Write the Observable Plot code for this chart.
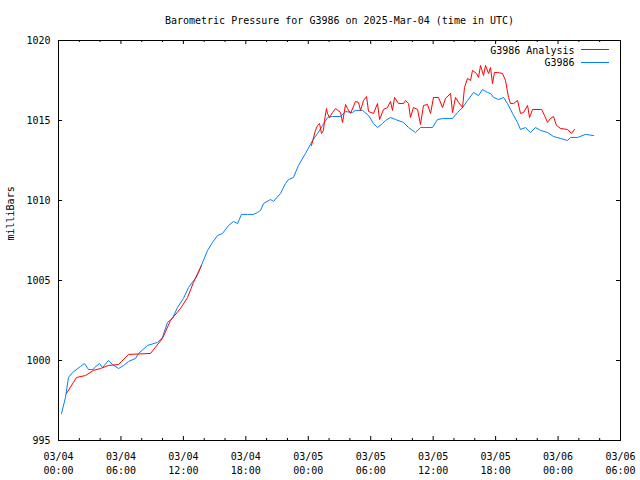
<!DOCTYPE html>
<html><head><meta charset="utf-8">
<script src="https://cdn.jsdelivr.net/npm/d3@7"></script>
<script src="https://cdn.jsdelivr.net/npm/@observablehq/plot@0.6"></script>
<style>body{margin:0;background:#fff}#chart{width:640px;height:480px}</style>
</head><body><div id="chart"></div>
<script>
const title = "Barometric Pressure for G3986 on 2025-Mar-04 (time in UTC)";
const yLabel = "milliBars";
const seriesNames = ["G3986 Analysis", "G3986"];
const seriesColors = ["#ff0000", "#0080ff"];
const yTicks = [995, 1000, 1005, 1010, 1015, 1020];
const xMajorHours = [0, 6, 12, 18, 24, 30, 36, 42, 48, 54];
const xMinorHours = [2, 4, 8, 10, 14, 16, 20, 22, 26, 28, 32, 34, 38, 40, 44, 46, 50, 52];

// G3986 (hours since 2025-03-04 00:00 UTC)
const blueHours = [0.29,0.67,0.96,1.35,2.11,2.50,2.88,3.36,3.46,3.94,4.23,4.80,5.19,5.77,6.25,6.73,7.40,7.69,8.55,9.51,9.99,10.47,10.95,11.43,12.01,12.49,13.16,13.45,14.32,14.80,15.28,15.76,16.34,16.82,17.20,17.58,18.16,18.74,19.12,19.41,19.70,20.37,20.66,21.33,21.81,22.10,22.58,23.06,23.73,24.41,24.89,25.37,25.85,26.33,27.10,27.58,28.25,28.54,29.21,29.79,30.27,30.65,31.13,31.42,31.90,32.38,33.15,33.63,34.30,34.78,35.94,36.42,36.99,37.86,38.34,38.82,39.30,39.88,40.36,40.74,41.22,41.51,41.80,42.28,42.76,43.14,43.63,44.10,44.39,44.87,45.35,45.83,46.32,46.99,47.56,48.24,48.91,49.20,49.87,50.64,51.41];
const bluePressure = [996.69,997.69,998.94,999.25,999.63,999.81,999.44,999.44,999.56,999.81,999.56,1000.0,999.75,999.5,999.69,999.94,1000.13,1000.44,1000.94,1001.13,1001.44,1002.38,1002.63,1003.31,1003.88,1004.56,1005.13,1005.5,1006.88,1007.38,1007.81,1007.94,1008.44,1008.69,1008.56,1009.13,1009.13,1009.13,1009.25,1009.38,1009.81,1010.06,1009.94,1010.44,1011.06,1011.31,1011.44,1012.19,1012.94,1013.75,1014.19,1014.69,1015.19,1015.25,1015.25,1015.56,1015.5,1015.63,1015.63,1015.31,1014.81,1014.56,1014.81,1015.0,1015.19,1015.06,1014.88,1014.56,1014.25,1014.56,1014.56,1015.06,1015.13,1015.13,1015.5,1015.81,1016.25,1016.75,1016.56,1016.94,1016.75,1016.69,1016.44,1016.31,1016.44,1016.06,1015.44,1014.88,1014.44,1014.56,1014.25,1014.56,1014.38,1014.25,1014.0,1013.88,1013.75,1013.94,1013.94,1014.13,1014.06];

// G3986 Analysis (null = gap)
const redHours = [0.77,1.73,2.59,3.36,4.04,4.80,5.77,6.73,8.84,9.99,10.76,11.72,12.40,12.97,13.74,
  19.0,
  24.31,24.69,24.89,25.08,25.27,25.46,25.56,25.75,25.85,26.04,26.33,26.62,27.10,27.29,27.58,27.77,28.06,28.54,28.83,29.02,29.31,29.60,29.79,30.27,30.65,30.85,31.23,31.61,31.90,32.09,32.29,32.67,33.15,33.34,33.63,33.82,34.11,34.50,34.78,35.07,35.46,35.75,36.03,36.51,36.90,37.19,37.67,37.86,38.15,38.44,38.82,39.01,39.30,39.59,39.78,40.17,40.36,40.55,40.84,41.03,41.32,41.51,41.70,41.89,42.18,42.66,42.95,43.24,43.43,43.72,44.11,44.39,44.68,45.07,45.26,45.55,46.42,46.70,46.99,47.28,47.56,47.85,48.24,48.91,49.29,49.58];
const redPressure = [997.94,998.94,999.06,999.38,999.5,999.69,999.75,1000.38,1000.44,1001.38,1002.5,1003.25,1003.94,1004.88,1005.94,
  null,
  1013.44,1014.38,1014.69,1014.81,1014.19,1014.38,1015.0,1015.75,1015.44,1015.19,1015.5,1015.75,1015.5,1014.88,1016.0,1015.75,1015.44,1016.19,1016.13,1015.63,1016.25,1016.5,1015.56,1015.44,1016.06,1015.06,1015.69,1015.81,1016.19,1015.63,1016.44,1016.06,1016.06,1016.25,1016.06,1015.19,1015.81,1015.69,1014.75,1015.94,1016.0,1015.44,1016.44,1016.44,1015.81,1016.38,1016.69,1015.5,1016.44,1016.13,1015.81,1017.06,1017.63,1017.5,1018.13,1017.94,1017.69,1018.44,1017.81,1018.44,1017.94,1018.31,1017.31,1018.0,1018.0,1017.94,1017.5,1016.44,1016.06,1016.06,1016.25,1015.44,1015.5,1015.94,1015.19,1015.69,1015.69,1015.31,1014.88,1015.13,1015.25,1014.69,1014.5,1014.44,1014.19,1014.44];

const t0 = Date.UTC(2025, 2, 4);
const toDate = h => new Date(t0 + h * 3600e3);
const blue = blueHours.map((h, i) => ({t: toDate(h), p: bluePressure[i]}));
const red = redHours.map((h, i) => ({t: toDate(h), p: redPressure[i]}));
const majors = xMajorHours.map(toDate);
const minors = xMinorHours.map(toDate);
const fmt = d3.utcFormat("%m/%d\n%H:%M");

const W = 640, H = 480, ML = 58, MR = 20, MT = 40, MB = 40;
const PW = W - ML - MR, PH = H - MT - MB;
const font = "'DejaVu Sans Mono', monospace";

const svg = Plot.plot({
  width: W, height: H,
  marginLeft: ML, marginRight: MR, marginTop: MT, marginBottom: MB,
  style: {fontFamily: font, fontSize: "10px", background: "white", color: "black"},
  x: {type: "utc", domain: [toDate(0), toDate(54)], axis: null},
  y: {domain: [995, 1020], axis: null},
  marks: [
    Plot.line(blue, {x: "t", y: "p", stroke: seriesColors[1], strokeWidth: 1}),
    Plot.line(red, {x: "t", y: "p", stroke: seriesColors[0], strokeWidth: 1}),
    Plot.frame({stroke: "black"}),
    Plot.tickX(majors, {x: d => d, insetTop: PH - 4, stroke: "black"}),
    Plot.tickX(majors, {x: d => d, insetBottom: PH - 4, stroke: "black"}),
    Plot.tickX(minors, {x: d => d, insetTop: PH - 2, stroke: "black"}),
    Plot.tickX(minors, {x: d => d, insetBottom: PH - 2, stroke: "black"}),
    Plot.tickY(yTicks, {y: d => d, insetRight: PW - 4, stroke: "black"}),
    Plot.tickY(yTicks, {y: d => d, insetLeft: PW - 4, stroke: "black"}),
    Plot.text(yTicks, {y: d => d, text: d => String(d), frameAnchor: "left", dx: -8, textAnchor: "end", fill: "black"}),
    Plot.text(majors, {x: d => d, text: d => fmt(d), frameAnchor: "bottom", lineAnchor: "top", dy: 10, lineHeight: 1.4, fill: "black"}),
    Plot.text([title], {text: d => d, frameAnchor: "top", lineAnchor: "middle", dy: -20, fill: "black"}),
    Plot.text([yLabel], {text: d => d, frameAnchor: "left", dx: -48, rotate: -90, fill: "black"}),
    Plot.text([seriesNames[0]], {text: d => d, frameAnchor: "top-right", lineAnchor: "middle", dx: -46, dy: 10, textAnchor: "end", fill: "black"}),
    Plot.text([seriesNames[1]], {text: d => d, frameAnchor: "top-right", lineAnchor: "middle", dx: -46, dy: 22, textAnchor: "end", fill: "black"})
  ]
});

// legend line samples
const s = d3.select(svg);
[[seriesColors[0], MT + 9.5], [seriesColors[1], MT + 22.5]].forEach(([c, y]) => {
  s.append("line").attr("x1", W - MR - 39).attr("x2", W - MR - 11)
    .attr("y1", y).attr("y2", y).attr("stroke", c).attr("stroke-width", 1);
});
document.getElementById("chart").appendChild(svg);
</script>
</body></html>
